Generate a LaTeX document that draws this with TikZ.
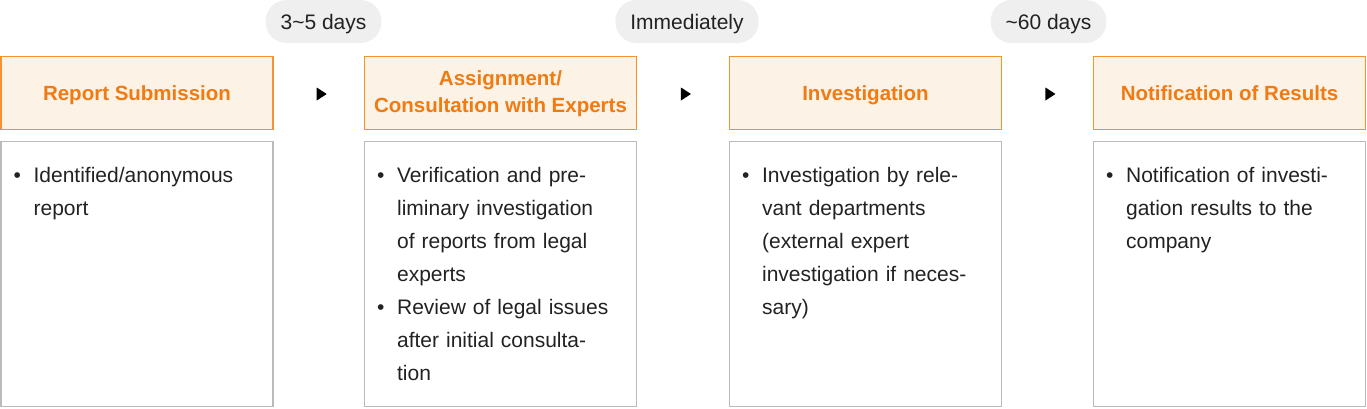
\documentclass[tikz,border=0pt]{standalone}
\usepackage{fontspec}
\setmainfont{Liberation Sans}
\usetikzlibrary{positioning,calc,shapes.geometric}
\definecolor{hdrorange}{HTML}{F07B12}
\definecolor{hdrfill}{HTML}{FDF2E6}
\definecolor{hdrline}{HTML}{F5932F}
\definecolor{bodyline}{HTML}{BBBBBB}
\definecolor{pillgray}{HTML}{EFEFEF}
\definecolor{txtdark}{HTML}{222222}
\newcommand{\bitem}[1]{\noindent\hangindent=20pt\hangafter=1\makebox[20pt][l]{\textbullet}#1\par}
\tikzset{
    every node/.style={font=\fontsize{21}{27}\selectfont, text=txtdark},
    stagebox/.style={draw=hdrline, fill=hdrfill, line width=1.2pt, minimum width=272pt, minimum height=73pt, align=center, text height=14pt, text depth=0pt, text=hdrorange, font=\fontsize{20.5}{27}\selectfont\bfseries},
    detailbox/.style={draw=bodyline, line width=1.2pt, minimum width=272pt, minimum height=265pt},
    detailtext/.style={anchor=north west, text width=255pt, align=left, inner sep=0pt, font=\fontsize{21}{33}\selectfont},
    durpill/.style={fill=pillgray, rounded corners=21pt, minimum height=43pt, inner xsep=15pt, text height=15pt, text depth=0pt},
    nexttri/.style={isosceles triangle, isosceles triangle stretches, fill=black, inner sep=0pt, minimum height=10pt, minimum width=13pt},
}

\begin{document}
\begin{tikzpicture}[x=1pt, y=-1pt]
\useasboundingbox (0,0) rectangle (1367,408);
% stage headers
\node[stagebox] (h1) at (137,93) {Report Submission};
\node[stagebox, text height=38pt] (h2) at (500.5,93) {Assignment/\\Consultation with Experts};
\node[stagebox] (h3) at (865.5,93) {Investigation};
\node[stagebox] (h4) at (1229.5,93) {Notification of Results};
% detail boxes under each header
\node[detailbox, below=11pt of h1] (b1) {};
\node[detailbox, below=11pt of h2] (b2) {};
\node[detailbox, below=11pt of h3] (b3) {};
\node[detailbox, below=11pt of h4] (b4) {};
\node[detailtext] (b1t) at ($(b1.north west)+(13,26)$) {\bitem{Identified/anonymous\newline report}};
\node[detailtext] (b2t) at ($(b2.north west)+(13,26)$) {\bitem{Verification and pre-\newline liminary investigation\newline of reports from legal\newline experts}\bitem{Review of legal issues\newline after initial consulta-\newline tion}};
\node[detailtext] (b3t) at ($(b3.north west)+(13,26)$) {\bitem{Investigation by rele-\newline vant departments\newline (external expert\newline investigation if neces-\newline sary)}};
\node[detailtext] (b4t) at ($(b4.north west)+(13,26)$) {\bitem{Notification of investi-\newline gation results to the\newline company}};
% small arrows between the stages
\node[nexttri] (t1) at ($(h1.east)!0.5!(h2.west)+(1.5,1)$) {};
\node[nexttri] (t2) at ($(h2.east)!0.5!(h3.west)+(1.5,1)$) {};
\node[nexttri] (t3) at ($(h3.east)!0.5!(h4.west)+(1.5,1)$) {};
% durations
\node[durpill] (p1) at (323.5,21.5) {3\textasciitilde5 days};
\node[durpill] (p2) at (687,21.5) {Immediately};
\node[durpill] (p3) at (1048.5,21.5) {\textasciitilde60 days};
\end{tikzpicture}
\end{document}
